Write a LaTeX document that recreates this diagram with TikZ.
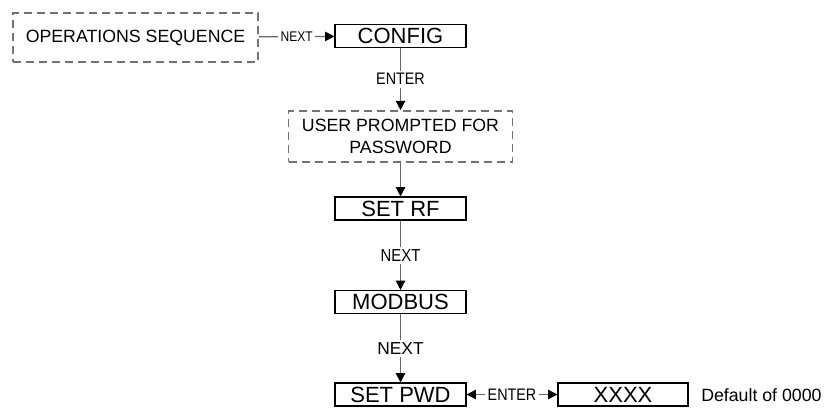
\documentclass[tikz,border=0pt]{standalone}
\usepackage{fontspec}
\setmainfont{Liberation Sans}
\newfontfamily\narrowfont[FakeStretch=0.86]{Liberation Sans}
\usetikzlibrary{arrows.meta}

\tikzset{
  menubox/.style={draw=black, line width=0.8pt, minimum width=98.25pt, minimum height=17.25pt,
    inner sep=0pt, font=\fontsize{16.5}{18}\selectfont},
  promptbox/.style={draw=black!55, dashed, dash pattern=on 6pt off 3.75pt, line width=1.2pt,
    inner sep=0pt, align=center, font=\fontsize{13.3}{16.5}\selectfont},
  lbl/.style={fill=white, inner sep=2pt, font=\narrowfont\fontsize{12.5}{14}\selectfont},
  link/.style={draw=black!60, line width=1pt,
    >={Triangle[length=7pt, width=7pt, color=black]}, ->}
}

\begin{document}
\begin{tikzpicture}[x=0.75pt, y=-0.75pt]
%
         \useasboundingbox (0,0) rectangle (830,407);

         \node [promptbox, minimum width=183.75pt, minimum height=36.75pt] (ops)  at (135.5,37.5) {OPERATIONS SEQUENCE};
         \node [menubox]   (config) at (400.5,36)    {CONFIG};
         \node [promptbox, minimum width=168pt, minimum height=38.25pt] (prompt) at (400.5,136.5) {USER PROMPTED FOR\\PASSWORD};
         \node [menubox]   (setrf)  at (400.5,208.5) {SET RF};
         \node [menubox]   (modbus) at (400.5,302)   {MODBUS};
         \node [menubox]   (setpwd) at (400.5,394.5) {SET PWD};
         \node [menubox, minimum width=97.5pt] (code) at (623,394.5) {XXXX};
         \node [anchor=west, inner sep=0pt, font=\fontsize{13.3}{15}\selectfont] (deflt) at (701,395) {Default of 0000};

         \draw [link] (ops) -- node[lbl, font=\narrowfont\fontsize{10.5}{12}\selectfont]{NEXT} (config);
         \draw [link] (config) -- node[lbl]{ENTER} (prompt);
         \draw [link] (prompt) -- (setrf);
         \draw [link] (setrf) -- node[lbl, font=\narrowfont\fontsize{13}{15}\selectfont]{NEXT} (modbus);
         \draw [link] (modbus) -- node[lbl, font=\fontsize{13}{15}\selectfont]{NEXT} (setpwd);
         \draw [link, <->] (setpwd) -- node[lbl]{ENTER} (code);

        \end{tikzpicture}
\end{document}
